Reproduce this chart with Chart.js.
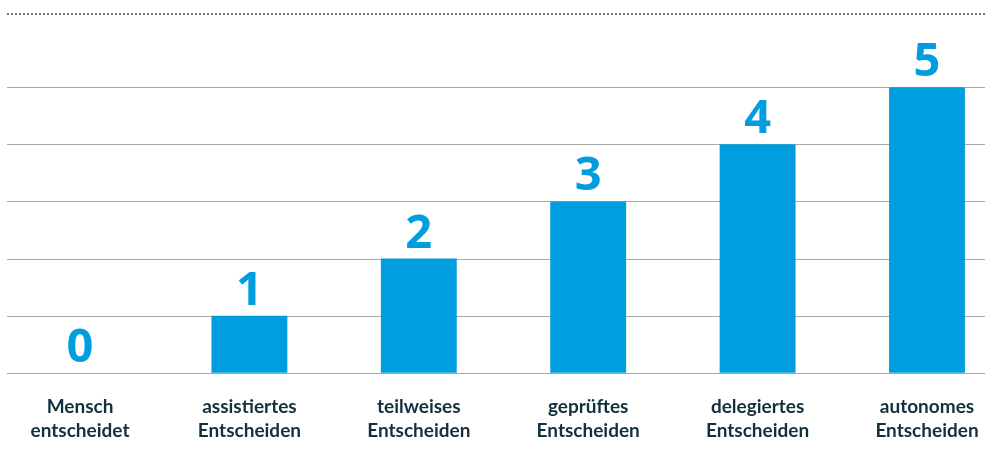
<!DOCTYPE html>
<html><head><meta charset="utf-8">
<script src="https://cdn.jsdelivr.net/npm/chart.js@4/dist/chart.umd.min.js"></script>
<style>html,body{margin:0;padding:0;background:#fff;}canvas{display:block;}</style>
</head><body>
<canvas id="c" width="992" height="472"></canvas>
<script>
const categories = [
  ['Mensch','entscheidet'],
  ['assistiertes','Entscheiden'],
  ['teilweises','Entscheiden'],
  ['geprüftes','Entscheiden'],
  ['delegiertes','Entscheiden'],
  ['autonomes','Entscheiden']
];
const levels = [0, 1, 2, 3, 4, 5];
const gridValues = [0, 1, 2, 3, 4, 5];
const valueLabels = ['0','1','2','3','4','5'];

const BLUE = '#009ddf';
const TEXT = '#13303d';

const decor = {
  id: 'decor',
  beforeDatasetsDraw(chart) {
    const {ctx} = chart;
    const y = chart.scales.y;
    ctx.save();
    ctx.strokeStyle = '#a8a8a8';
    ctx.lineWidth = 1;
    gridValues.forEach(v => {
      const py = Math.round(y.getPixelForValue(v)) + 0.5;
      ctx.beginPath(); ctx.moveTo(7, py); ctx.lineTo(985, py); ctx.stroke();
    });
    ctx.strokeStyle = '#7a7a7a';
    ctx.lineWidth = 2;
    ctx.setLineDash([2, 2]);
    const ty = Math.round(chart.chartArea.top) + 1;
    ctx.beginPath(); ctx.moveTo(7, ty); ctx.lineTo(985, ty); ctx.stroke();
    ctx.restore();
  },
  afterDatasetsDraw(chart) {
    const {ctx} = chart;
    const meta = chart.getDatasetMeta(0);
    ctx.save();
    ctx.fillStyle = BLUE;
    ctx.font = 'bold 47px "Open Sans", sans-serif';
    ctx.textAlign = 'center';
    ctx.textBaseline = 'alphabetic';
    meta.data.forEach((bar, i) => {
      ctx.fillText(valueLabels[i], bar.x, bar.y - 11);
    });
    ctx.restore();
  }
};

new Chart(document.getElementById('c'), {
  type: 'bar',
  data: {
    labels: categories,
    datasets: [{ data: levels, backgroundColor: BLUE, borderWidth: 0, clip: false,
      barPercentage: 0.448, categoryPercentage: 1 }]
  },
  options: {
    responsive: false,
    animation: false,
    devicePixelRatio: 1,
    layout: { padding: { left: 80, right: 65, top: 13, bottom: 15 } },
    plugins: { legend: { display: false }, tooltip: { enabled: false } },
    scales: {
      x: {
        offset: false,
        grid: { display: false },
        border: { display: false },
        afterFit(scale) { scale.paddingLeft = 0; scale.paddingRight = 0; },
        ticks: { color: TEXT, font: { family: 'Lato', weight: 'bold', size: 19, lineHeight: 1.27 }, padding: 14, maxRotation: 0, autoSkip: false }
      },
      y: {
        min: 0, max: 6.3,
        display: false
      }
    }
  },
  plugins: [decor]
});
</script>
</body></html>
